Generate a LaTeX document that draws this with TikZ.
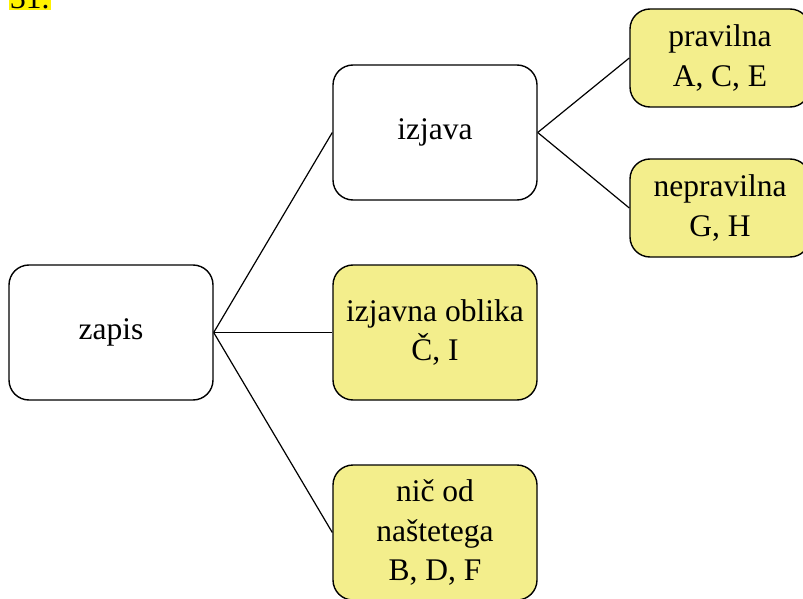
\documentclass[tikz,border=0pt]{standalone}
\usepackage{fontspec}
\setmainfont{Liberation Serif}
\definecolor{boxyellow}{HTML}{F3EE8C}
\begin{document}
\begin{tikzpicture}[x=1pt,y=-1pt,
  box/.style={draw=black, line width=1.4pt, rounded corners=20pt, align=center,
    font=\fontsize{31.5}{39.5}\selectfont, inner sep=0pt},
  wbox/.style={box, fill=white, minimum width=204pt, minimum height=135pt},
  ybox/.style={box, fill=boxyellow, minimum width=204pt, minimum height=135pt},
  sbox/.style={box, fill=boxyellow, minimum width=180pt, minimum height=98pt},
  conn/.style={draw=black, line width=1.2pt}]
\useasboundingbox (0,0) rectangle (803,599);
\node[fill=yellow, anchor=south west, inner sep=1pt, font=\fontsize{31.5}{36}\selectfont] (num) at (9,10) {31.};
\node[wbox] (zapis) at (111,332.5) {zapis};
\node[wbox] (izjava) at (435,132.5) {izjava};
\node[ybox] (oblika) at (435,332.5) {izjavna oblika\\Č, I};
\node[ybox] (nic) at (435,532.5) {nič od\\naštetega\\B, D, F};
\node[sbox] (prav) at (720,58) {pravilna\\A, C, E};
\node[sbox] (neprav) at (720,208) {nepravilna\\G, H};
\draw[conn] (zapis.east) -- (izjava.west);
\draw[conn] (zapis.east) -- (oblika.west);
\draw[conn] (zapis.east) -- (nic.west);
\draw[conn] (izjava.east) -- (prav.west);
\draw[conn] (izjava.east) -- (neprav.west);
\end{tikzpicture}
\end{document}
